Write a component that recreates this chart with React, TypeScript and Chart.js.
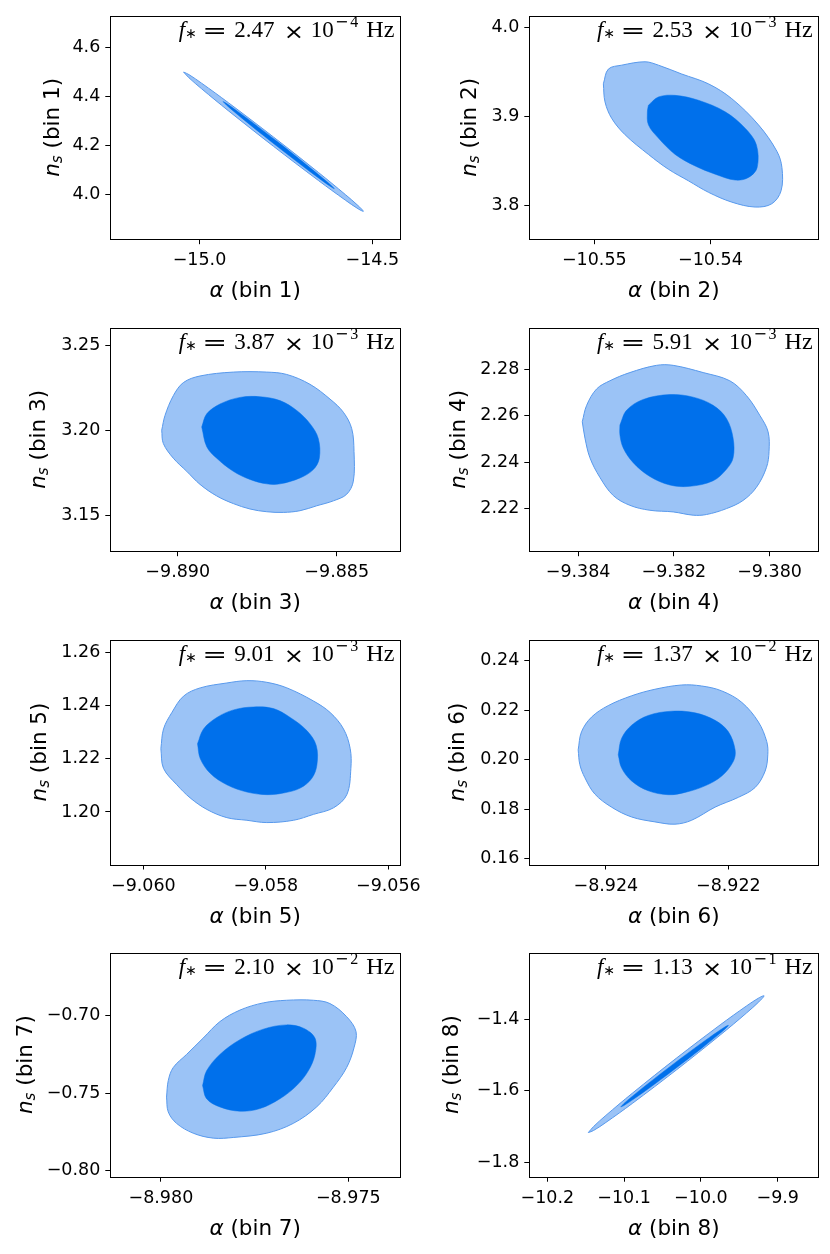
import { useEffect, useRef } from "react";
import Chart from "chart.js/auto";

// ---- data ----

const bins = [1, 2, 3, 4, 5, 6, 7, 8];

const xMin = [-15.258, -10.5556, -9.89212, -9.38502, -9.06054, -8.92525, -8.98135, -10.2234];
const xMax = [-14.42, -10.5307, -9.88301, -9.37898, -9.05581, -8.92053, -8.97362, -9.8471];
const yMin = [3.816, 3.7625, 3.12877, 2.20136, 1.18022, 0.15774, -0.8038, -1.8406];
const yMax = [4.73, 4.0129, 3.26044, 2.29834, 1.26494, 0.24844, -0.65942, -1.2124];

const xTicks = [
  [-15.0, -14.5],
  [-10.55, -10.54],
  [-9.89, -9.885],
  [-9.384, -9.382, -9.38],
  [-9.06, -9.058, -9.056],
  [-8.924, -8.922],
  [-8.98, -8.975],
  [-10.2, -10.1, -10.0, -9.9],
];
const xTickLabels = [
  ["−15.0", "−14.5"],
  ["−10.55", "−10.54"],
  ["−9.890", "−9.885"],
  ["−9.384", "−9.382", "−9.380"],
  ["−9.060", "−9.058", "−9.056"],
  ["−8.924", "−8.922"],
  ["−8.980", "−8.975"],
  ["−10.2", "−10.1", "−10.0", "−9.9"],
];
const yTicks = [
  [4.0, 4.2, 4.4, 4.6],
  [3.8, 3.9, 4.0],
  [3.15, 3.2, 3.25],
  [2.22, 2.24, 2.26, 2.28],
  [1.2, 1.22, 1.24, 1.26],
  [0.16, 0.18, 0.2, 0.22, 0.24],
  [-0.8, -0.75, -0.7],
  [-1.8, -1.6, -1.4],
];
const yTickLabels = [
  ["4.0", "4.2", "4.4", "4.6"],
  ["3.8", "3.9", "4.0"],
  ["3.15", "3.20", "3.25"],
  ["2.22", "2.24", "2.26", "2.28"],
  ["1.20", "1.22", "1.24", "1.26"],
  ["0.16", "0.18", "0.20", "0.22", "0.24"],
  ["−0.80", "−0.75", "−0.70"],
  ["−1.8", "−1.6", "−1.4"],
];

const freqMantissa = ["2.47", "2.53", "3.87", "5.91", "9.01", "1.37", "2.10", "1.13"];
const freqExponent = ["4", "3", "3", "3", "3", "2", "2", "1"];

// contour outlines, [alpha, n_s]
const outer1 = [
  [-15.046, 4.499], [-15.0304, 4.4884], [-14.994, 4.4535], [-14.916, 4.3733], [-14.786, 4.2335],
  [-14.656, 4.0888], [-14.578, 3.9983], [-14.5416, 3.9536], [-14.526, 3.93], [-14.5416, 3.9406],
  [-14.578, 3.9755], [-14.656, 4.0558], [-14.786, 4.1955], [-14.916, 4.3403], [-14.994, 4.4307],
  [-15.0304, 4.4754],
];
const inner1 = [
  [-14.932, 4.3785], [-14.9223, 4.3712], [-14.8998, 4.3489], [-14.8515, 4.2982], [-14.771, 4.2106],
  [-14.6905, 4.1203], [-14.6422, 4.0642], [-14.6197, 4.0367], [-14.61, 4.0226], [-14.6197, 4.0299],
  [-14.6422, 4.0522], [-14.6905, 4.1029], [-14.771, 4.1906], [-14.8515, 4.2808], [-14.8998, 4.3369],
  [-14.9223, 4.3644],
];
const outer2 = [
  [-10.54922, 3.9364], [-10.54879, 3.9529], [-10.54764, 3.9573], [-10.54563, 3.9611],
  [-10.54448, 3.9573], [-10.54247, 3.9474], [-10.54017, 3.9364], [-10.53816, 3.9198],
  [-10.53586, 3.8905], [-10.53428, 3.861], [-10.53384, 3.8426], [-10.53391, 3.8169],
  [-10.53471, 3.8022], [-10.53615, 3.7985], [-10.53816, 3.804], [-10.54017, 3.815],
  [-10.5419, 3.8279], [-10.54362, 3.8408], [-10.54534, 3.8574], [-10.54735, 3.8794],
  [-10.5485, 3.8977], [-10.54908, 3.9162],
];
const inner2 = [
  [-10.54534, 3.9125], [-10.54448, 3.9217], [-10.54304, 3.9235], [-10.54103, 3.918],
  [-10.53873, 3.9051], [-10.53701, 3.8867], [-10.53605, 3.8684], [-10.53598, 3.8426],
  [-10.53672, 3.8316], [-10.53787, 3.8287], [-10.53959, 3.8353], [-10.54132, 3.8445],
  [-10.54304, 3.8574], [-10.54448, 3.8757], [-10.54534, 3.8905], [-10.54543, 3.9051],
];
const outer3 = [
  [-9.890503, 3.2], [-9.890399, 3.2087], [-9.890138, 3.2203], [-9.889824, 3.228],
  [-9.889299, 3.2319], [-9.888252, 3.2342], [-9.887201, 3.2342], [-9.886572, 3.2328],
  [-9.88584, 3.227], [-9.885211, 3.2183], [-9.884792, 3.2106], [-9.884528, 3.2009],
  [-9.884456, 3.1874], [-9.884477, 3.17], [-9.884686, 3.1623], [-9.885107, 3.1584],
  [-9.885629, 3.1555], [-9.886154, 3.1526], [-9.886679, 3.1516], [-9.887201, 3.152],
  [-9.887726, 3.1536], [-9.888252, 3.1568], [-9.888774, 3.1613], [-9.889299, 3.1681],
  [-9.889717, 3.1758], [-9.890138, 3.1835], [-9.890453, 3.1922],
];
const inner3 = [
  [-9.889245, 3.2019], [-9.889088, 3.2096], [-9.88867, 3.2154], [-9.888041, 3.2193],
  [-9.887412, 3.2197], [-9.886783, 3.2174], [-9.886258, 3.2116], [-9.88584, 3.2038],
  [-9.885579, 3.1951], [-9.885547, 3.1835], [-9.885736, 3.1768], [-9.886154, 3.1719],
  [-9.886783, 3.1684], [-9.887201, 3.1684], [-9.887726, 3.171], [-9.888252, 3.1758],
  [-9.888774, 3.1835], [-9.889088, 3.1903],
];
const outer4 = [
  [-9.383913, 2.25748], [-9.383822, 2.26459], [-9.383614, 2.2717], [-9.383335, 2.27525],
  [-9.382918, 2.27881], [-9.382362, 2.28193], [-9.382014, 2.28193], [-9.381388, 2.27881],
  [-9.380832, 2.27525], [-9.380484, 2.26886], [-9.380206, 2.26033], [-9.380032, 2.25322],
  [-9.380011, 2.24469], [-9.380066, 2.23758], [-9.380275, 2.22905], [-9.380553, 2.22337],
  [-9.380901, 2.21982], [-9.381318, 2.21726], [-9.381597, 2.21697], [-9.382014, 2.21839],
  [-9.382501, 2.2191], [-9.382918, 2.22124], [-9.383266, 2.2255], [-9.383544, 2.23332],
  [-9.383753, 2.24185], [-9.383857, 2.25038],
];
const inner4 = [
  [-9.383127, 2.25606], [-9.382988, 2.26246], [-9.38264, 2.26715], [-9.382083, 2.26928],
  [-9.381597, 2.26815], [-9.381179, 2.26459], [-9.380901, 2.25891], [-9.380762, 2.25038],
  [-9.380762, 2.24185], [-9.380901, 2.23687], [-9.381179, 2.2319], [-9.381666, 2.22948],
  [-9.382083, 2.23005], [-9.382501, 2.23375], [-9.382849, 2.23972], [-9.383057, 2.24611],
  [-9.383127, 2.2518],
];
const outer5 = [
  [-9.059714, 1.22383], [-9.059671, 1.23126], [-9.059535, 1.23744], [-9.059344, 1.24362],
  [-9.059072, 1.24672], [-9.058637, 1.24857], [-9.05831, 1.24944], [-9.057984, 1.24882],
  [-9.057657, 1.24672], [-9.057222, 1.24177], [-9.05695, 1.23744], [-9.056732, 1.23126],
  [-9.056623, 1.22383], [-9.056612, 1.21641], [-9.056678, 1.20652], [-9.056895, 1.20157],
  [-9.057222, 1.1991], [-9.057548, 1.19687], [-9.057984, 1.196], [-9.05831, 1.19687],
  [-9.058637, 1.19786], [-9.058963, 1.20095], [-9.059235, 1.20528], [-9.059453, 1.21023],
  [-9.059671, 1.21641],
];
const inner5 = [
  [-9.059116, 1.22569], [-9.059018, 1.23126], [-9.0588, 1.23558], [-9.058528, 1.23843],
  [-9.058201, 1.23954], [-9.057875, 1.23892], [-9.057603, 1.23558], [-9.057331, 1.23064],
  [-9.057178, 1.22507], [-9.057167, 1.21765], [-9.057249, 1.2127], [-9.057439, 1.20899],
  [-9.057712, 1.20714], [-9.057984, 1.20652], [-9.05831, 1.20751], [-9.058637, 1.21023],
  [-9.058909, 1.21456], [-9.059072, 1.22012],
];
const outer6 = [
  [-8.924452, 0.20396], [-8.924398, 0.21122], [-8.924234, 0.21716], [-8.923962, 0.22178],
  [-8.92358, 0.22574], [-8.923199, 0.22838], [-8.922763, 0.2301], [-8.922436, 0.2297],
  [-8.922108, 0.22772], [-8.921781, 0.2231], [-8.921509, 0.21518], [-8.921373, 0.20726],
  [-8.921356, 0.20198], [-8.9214, 0.19538], [-8.921563, 0.18878], [-8.921836, 0.18482],
  [-8.922217, 0.18086], [-8.922599, 0.17558], [-8.922872, 0.17399], [-8.923199, 0.17492],
  [-8.92358, 0.1769], [-8.923907, 0.18086], [-8.92418, 0.18614], [-8.924343, 0.19274],
  [-8.924425, 0.19802],
];
const inner6 = [
  [-8.923798, 0.20198], [-8.923744, 0.20858], [-8.92358, 0.21386], [-8.923308, 0.21782],
  [-8.922926, 0.21954], [-8.922545, 0.21888], [-8.922217, 0.21584], [-8.921999, 0.21122],
  [-8.92189, 0.20396], [-8.921918, 0.19934], [-8.922108, 0.1934], [-8.922381, 0.18944],
  [-8.922708, 0.1868], [-8.922981, 0.18587], [-8.923308, 0.18746], [-8.92358, 0.19142],
  [-8.923744, 0.1967],
];
const outer7 = [
  [-8.979849, -0.75254], [-8.979804, -0.74197], [-8.979671, -0.73351], [-8.979315, -0.72506],
  [-8.97887, -0.71449], [-8.978425, -0.70392], [-8.977891, -0.69652], [-8.977268, -0.69187],
  [-8.976645, -0.69018], [-8.975933, -0.69018], [-8.975489, -0.6923], [-8.975044, -0.70075],
  [-8.974794, -0.71026], [-8.974848, -0.72083], [-8.975044, -0.73351], [-8.9754, -0.7462],
  [-8.975845, -0.75888], [-8.976467, -0.76945], [-8.977179, -0.77579], [-8.978069, -0.77854],
  [-8.978603, -0.77896], [-8.979137, -0.77579], [-8.979582, -0.76945], [-8.979804, -0.76205],
];
const inner7 = [
  [-8.978888, -0.74514], [-8.978781, -0.73563], [-8.978425, -0.72506], [-8.977891, -0.71555],
  [-8.977268, -0.70878], [-8.976645, -0.70603], [-8.9762, -0.70815], [-8.975889, -0.71449],
  [-8.975889, -0.72506], [-8.976067, -0.73563], [-8.976378, -0.74514], [-8.976823, -0.75359],
  [-8.977357, -0.75993], [-8.977891, -0.76163], [-8.978425, -0.75888], [-8.978781, -0.75359],
];
const outer8 = [
  [-10.1466, -1.717], [-10.1397, -1.6999], [-10.1237, -1.6688], [-10.0894, -1.6069],
  [-10.0322, -1.5089], [-9.975, -1.4153], [-9.9407, -1.3622], [-9.9247, -1.3397],
  [-9.9178, -1.3338], [-9.9247, -1.3509], [-9.9407, -1.382], [-9.975, -1.4439],
  [-10.0322, -1.5419], [-10.0894, -1.6355], [-10.1237, -1.6886], [-10.1397, -1.7111],
];
const inner8 = [
  [-10.1044, -1.6452], [-10.1002, -1.6354], [-10.0904, -1.6172], [-10.0694, -1.5807],
  [-10.0344, -1.5224], [-9.9993, -1.4664], [-9.9783, -1.4344], [-9.9685, -1.4206],
  [-9.9643, -1.4166], [-9.9685, -1.4264], [-9.9783, -1.4446], [-9.9993, -1.4812],
  [-10.0344, -1.5394], [-10.0694, -1.5955], [-10.0904, -1.6274], [-10.1002, -1.6412],
];

const outerContours = [outer1, outer2, outer3, outer4, outer5, outer6, outer7, outer8];
const innerContours = [inner1, inner2, inner3, inner4, inner5, inner6, inner7, inner8];

// ---- layout ----
const ROW_TOP = [12, 324.3, 636, 949.3];
const ROW_H = [227.2, 227.2, 228.5, 227.7];
const COL_CSS_LEFT = [0, 415];
const COL_CANVAS_W = [440, 415];
const COL_AXIS_W = [110.3, 114.3];
const COL_PAD_RIGHT = [40, 11.6];
const CANVAS_H = 312;
const PAD_TOP = 12;
const Y_TITLE_OFFSET = [57, 59, 71, 70, 70, 71, 84, 77];

const OUTER_FILL = "rgb(155,195,246)";
const OUTER_EDGE = "rgb(88,153,236)";
const INNER_FILL = "rgb(0,112,235)";

const toPoints = (c: number[][]) => [...c, c[0]].map(([x, y]) => ({ x, y }));

function Panel({ i }: { i: number }) {
  const ref = useRef<HTMLCanvasElement | null>(null);
  const col = i % 2;
  const row = Math.floor(i / 2);

  useEffect(() => {
    if (!ref.current) return;

    const decor = {
      id: "decor",
      afterDraw(chart: Chart) {
        const { ctx, chartArea: a } = chart;
        ctx.save();
        ctx.strokeStyle = "#000";
        ctx.lineWidth = 1;
        ctx.strokeRect(
          Math.round(a.left) + 0.5,
          Math.round(a.top) + 0.5,
          Math.round(a.right) - Math.round(a.left),
          Math.round(a.bottom) - Math.round(a.top)
        );
        ctx.fillStyle = "#000";
        ctx.textAlign = "left";

        // x title
        ctx.textBaseline = "middle";
        const it = 'italic 21.5px "DejaVu Sans"';
        const rg = '21.5px "DejaVu Sans"';
        const rest = ` (bin ${bins[i]})`;
        ctx.font = it;
        const wa = ctx.measureText("α").width;
        ctx.font = rg;
        const wr = ctx.measureText(rest).width;
        let x0 = (a.left + a.right) / 2 - (wa + wr) / 2;
        const ty = a.bottom + 52.5;
        ctx.font = it;
        ctx.fillText("α", x0, ty);
        ctx.font = rg;
        ctx.fillText(rest, x0 + wa, ty);

        // y title
        ctx.save();
        ctx.translate(a.left - Y_TITLE_OFFSET[i], (a.top + a.bottom) / 2);
        ctx.rotate(-Math.PI / 2);
        const sub = 'italic 15px "DejaVu Sans"';
        ctx.font = it;
        const wn = ctx.measureText("n").width;
        ctx.font = sub;
        const ws = ctx.measureText("s").width;
        x0 = -(wn + ws + wr) / 2;
        ctx.font = it;
        ctx.fillText("n", x0, 0);
        ctx.font = sub;
        ctx.fillText("s", x0 + wn, 5);
        ctx.font = rg;
        ctx.fillText(rest, x0 + wn + ws, 0);
        ctx.restore();

        // f_* annotation
        ctx.textBaseline = "alphabetic";
        const s = a.right - 3.3 - 220;
        const b = a.top + 21.3;
        const serif = '23px "Liberation Serif"';
        const parts: [string, string, number, number, number][] = [
          ["f", 'italic 23px "Liberation Serif"', 2, 0, 1],
          ["∗", '14px "DejaVu Sans"', 8.5, 1.5, 1],
          ["=", '22px "DejaVu Sans"', 25.5, 1.5, 1.35],
          [freqMantissa[i], serif, 57.5, 0, 1],
          ["×", '22px "DejaVu Sans"', 107, 2.5, 1.1],
          ["10", serif, 134, 0, 1],
          ["−", '16px "DejaVu Sans"', 158.3, -9.5, 1],
          [freqExponent[i], '16px "Liberation Serif"', 173.5, -9.5, 1],
          ["Hz", serif, 189.5, 0, 1.05],
        ];
        for (const [t, f, dx, dy, sx] of parts) {
          ctx.save();
          ctx.translate(s + dx, b + dy);
          ctx.scale(sx, 1);
          ctx.font = f;
          ctx.fillText(t, 0, 0);
          ctx.restore();
        }
        ctx.restore();
      },
    };

    const tickFont = { family: "DejaVu Sans", size: 17.5 };
    const chart = new Chart(ref.current, {
      type: "scatter",
      data: {
        datasets: [
          {
            data: toPoints(innerContours[i]),
            showLine: true,
            fill: "shape",
            backgroundColor: INNER_FILL,
            borderColor: INNER_FILL,
            borderWidth: 0.5,
            pointRadius: 0,
            tension: 0.35,
          },
          {
            data: toPoints(outerContours[i]),
            showLine: true,
            fill: "shape",
            backgroundColor: OUTER_FILL,
            borderColor: OUTER_EDGE,
            borderWidth: 1,
            pointRadius: 0,
            tension: 0.35,
          },
        ],
      },
      options: {
        responsive: false,
        animation: false,
        events: [],
        layout: { padding: { top: PAD_TOP, right: COL_PAD_RIGHT[col], left: 0, bottom: 0 } },
        plugins: { legend: { display: false }, tooltip: { enabled: false } },
        scales: {
          x: {
            type: "linear",
            position: "bottom",
            min: xMin[i],
            max: xMax[i],
            afterBuildTicks: (sc: any) => {
              sc.ticks = xTicks[i].map((v) => ({ value: v }));
            },
            afterFit: (sc: any) => {
              sc.height = CANVAS_H - PAD_TOP - ROW_H[row];
            },
            ticks: {
              autoSkip: false,
              maxRotation: 0,
              padding: 6,
              color: "#000",
              font: tickFont,
              callback: (_v: any, idx: number) => xTickLabels[i][idx],
            },
            grid: { drawOnChartArea: false, drawTicks: true, tickLength: 5, color: "#000", lineWidth: 1 },
            border: { display: false },
          },
          y: {
            type: "linear",
            position: "left",
            min: yMin[i],
            max: yMax[i],
            afterBuildTicks: (sc: any) => {
              sc.ticks = yTicks[i].map((v) => ({ value: v }));
            },
            afterFit: (sc: any) => {
              sc.width = COL_AXIS_W[col];
            },
            ticks: {
              autoSkip: false,
              padding: 5,
              color: "#000",
              font: tickFont,
              callback: (_v: any, idx: number) => yTickLabels[i][idx],
            },
            grid: { drawOnChartArea: false, drawTicks: true, tickLength: 5, color: "#000", lineWidth: 1 },
            border: { display: false },
          },
        },
      },
      plugins: [decor],
    });

    return () => chart.destroy();
  }, [i, col, row]);

  return (
    <canvas
      ref={ref}
      width={COL_CANVAS_W[col]}
      height={CANVAS_H}
      style={{
        position: "absolute",
        left: COL_CSS_LEFT[col],
        top: ROW_TOP[row] - PAD_TOP,
        width: COL_CANVAS_W[col],
        height: CANVAS_H,
      }}
    />
  );
}

export default function App() {
  return (
    <div style={{ position: "absolute", left: 0, top: 0, width: 830, height: 1254, background: "#fff", overflow: "hidden" }}>
      {bins.map((_, i) => (
        <Panel key={i} i={i} />
      ))}
    </div>
  );
}
